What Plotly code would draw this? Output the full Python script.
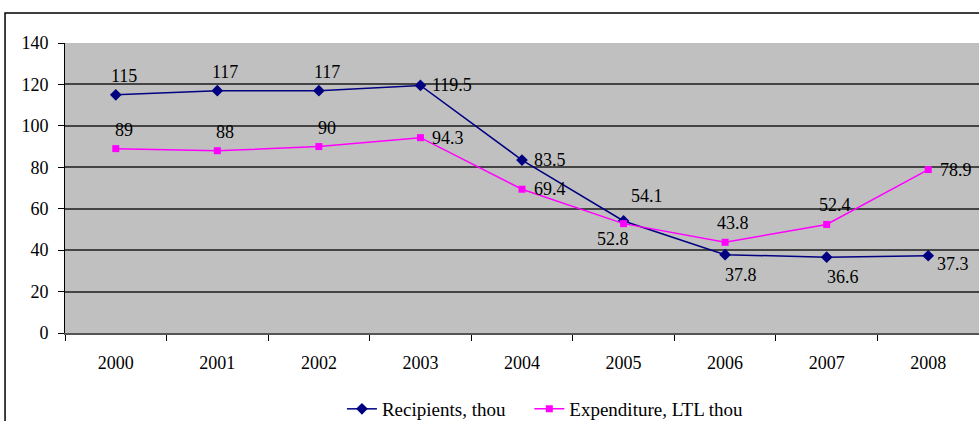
import plotly.graph_objects as go

years = ["2000", "2001", "2002", "2003", "2004", "2005", "2006", "2007", "2008"]
recipients = [115, 117, 117, 119.5, 83.5, 54.1, 37.8, 36.6, 37.3]
expenditure = [89, 88, 90, 94.3, 69.4, 52.8, 43.8, 52.4, 78.9]
rec_labels = ["115", "117", "117", "119.5", "83.5", "54.1", "37.8", "36.6", "37.3"]
exp_labels = ["89", "88", "90", "94.3", "69.4", "52.8", "43.8", "52.4", "78.9"]
rec_place = ["above", "above", "above", "right", "right",
             "above_right", "below", "below", "right_low"]
exp_place = ["above", "above", "above", "right", "right",
             "below_left", "above", "above", "right"]
y_ticks = [0, 20, 40, 60, 80, 100, 120, 140]

# label placement styles (anchor + pixel offset from the point)
PLACEMENTS = {
    "above": dict(xanchor="center", yanchor="bottom", xshift=8, yshift=7),
    "below": dict(xanchor="center", yanchor="top", xshift=16, yshift=-8),
    "right": dict(xanchor="left", yanchor="middle", xshift=10, yshift=0),
    "right_low": dict(xanchor="left", yanchor="middle", xshift=7, yshift=-8),
    "above_right": dict(xanchor="left", yanchor="bottom", xshift=5, yshift=13),
    "below_left": dict(xanchor="right", yanchor="top", xshift=7, yshift=-3),
}

font_family = "Times New Roman, Liberation Serif, DejaVu Serif, serif"

fig = go.Figure()
fig.add_trace(go.Scatter(
    x=years, y=recipients, mode="lines+markers", name="Recipients, thou",
    line=dict(color="#000080", width=1.5),
    marker=dict(symbol="diamond", size=9, color="#000080"),
    legend="legend",
))
fig.add_trace(go.Scatter(
    x=years, y=expenditure, mode="lines+markers", name="Expenditure, LTL thou",
    line=dict(color="#FF00FF", width=1.5),
    marker=dict(symbol="square", size=7, color="#FF00FF"),
    legend="legend2",
))

annotations = []
for ys, labels, places in [(recipients, rec_labels, rec_place),
                           (expenditure, exp_labels, exp_place)]:
    for i, (yv, lab, pl) in enumerate(zip(ys, labels, places)):
        annotations.append(dict(
            x=i, y=yv, xref="x", yref="y", text=lab, showarrow=False,
            font=dict(family=font_family, size=18, color="#000000"),
            **PLACEMENTS[pl],
        ))

legend_style = dict(orientation="h", xanchor="left", y=-0.262, yanchor="middle",
                    font=dict(family=font_family, size=19), bgcolor="rgba(0,0,0,0)")

fig.update_layout(
    width=979, height=421,
    margin=dict(l=65, r=0, t=43, b=88, autoexpand=False),
    paper_bgcolor="white",
    plot_bgcolor="#C0C0C0",
    font=dict(family=font_family, size=18, color="#000000"),
    showlegend=True,
    legend=dict(x=0.303, **legend_style),
    legend2=dict(x=0.508, **legend_style),
    annotations=annotations,
    shapes=[dict(type="rect", xref="paper", yref="paper",
                 x0=-0.0656, x1=1.2, y0=-0.6, y1=1.1034,
                 line=dict(color="#000000", width=1.5), fillcolor="rgba(0,0,0,0)",
                 layer="below")],
)
fig.update_xaxes(
    type="category", range=[-0.5, len(years) - 0.5],
    tickson="boundaries", ticks="outside", ticklen=6,
    tickcolor="#000000", showline=True, linecolor="#555555", linewidth=2,
    showgrid=False, tickfont=dict(family=font_family, size=18), ticklabelstandoff=12,
    automargin=False,
)
fig.update_yaxes(
    range=[0, 140], tickvals=y_ticks, ticks="outside", ticklen=6, tickcolor="#000000",
    showline=True, linecolor="#000000", linewidth=1,
    showgrid=True, gridcolor="#444444", gridwidth=1.5, zeroline=False,
    tickfont=dict(family=font_family, size=18), ticklabelstandoff=6, automargin=False,
)

fig.write_html(
    "out.html",
    config={"displayModeBar": False},
    post_script="document.body.style.margin='0';document.body.style.overflow='hidden';"
                "document.documentElement.style.overflow='hidden';",
)
